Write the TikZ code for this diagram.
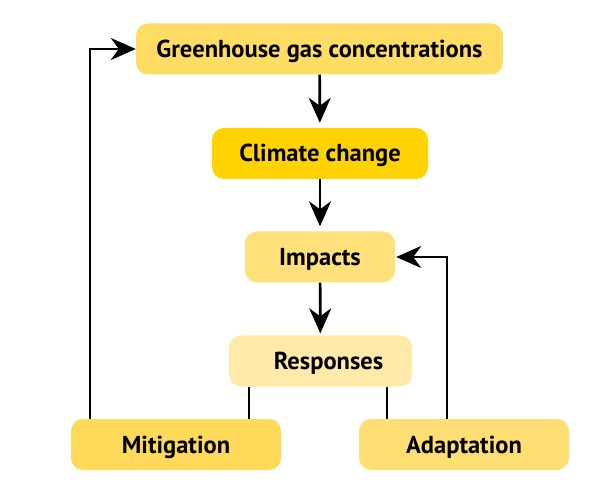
\documentclass[tikz,border=0pt]{standalone}
\usepackage{fontspec}
\setmainfont{PT Sans}
\usetikzlibrary{arrows.meta}
\definecolor{ghgfill}{RGB}{255,220,100}
\definecolor{climfill}{RGB}{255,210,0}
\definecolor{impfill}{RGB}{255,224,122}
\definecolor{respfill}{RGB}{255,234,170}
\definecolor{mitfill}{RGB}{255,218,90}
\definecolor{adafill}{RGB}{255,222,115}
\begin{document}
\begin{tikzpicture}[x=1pt, y=-1pt]
    \tikzstyle{every node}=[align = center, font=\bfseries\fontsize{24.5}{28}\selectfont]
    \tikzstyle{box} = [rounded corners=12pt, inner sep=0pt, minimum height=51pt, text height=17pt, text depth=0pt]
    \tikzstyle{link} = [line width=2.7pt]
    \tikzstyle{arrow} = [link, -{Stealth[length=25pt, width=22pt, inset=8pt]}]
    \useasboundingbox (0,0) rectangle (610,502);
    \node[box, fill=ghgfill, minimum width=367pt] (ghg) at (319.5,49) {Greenhouse gas concentrations};
    \node[box, fill=climfill, minimum width=216pt] (clim) at (320,153.5) {Climate change};
    \node[box, fill=impfill, minimum width=150pt] (imp) at (320,257) {Impacts};
    \node[box, fill=respfill, minimum width=183pt] (resp) at (320.5,361) {\hspace*{16pt}Responses};
    \node[box, fill=mitfill, minimum width=210pt] (mit) at (176,444.5) {Mitigation};
    \node[box, fill=adafill, minimum width=210pt] (ada) at (464,444.5) {Adaptation};
    \draw[arrow, shorten >=5pt] (ghg) -- (clim);
    \draw[arrow, shorten >=5pt] (clim) -- (imp);
    \draw[arrow, shorten >=2pt] (imp) -- (resp);
    \draw[link] ([xshift=-71.5pt]resp.south) -- ([xshift=-71.5pt]resp.south |- mit.north);
    \draw[link] ([xshift=66.5pt]resp.south) -- ([xshift=66.5pt]resp.south |- ada.north);
    \draw[arrow] ([xshift=-86pt]mit.north) |- (ghg.west);
    \draw[arrow, shorten >=1pt] ([xshift=-17pt]ada.north) |- (imp.east);
\end{tikzpicture}
\end{document}
